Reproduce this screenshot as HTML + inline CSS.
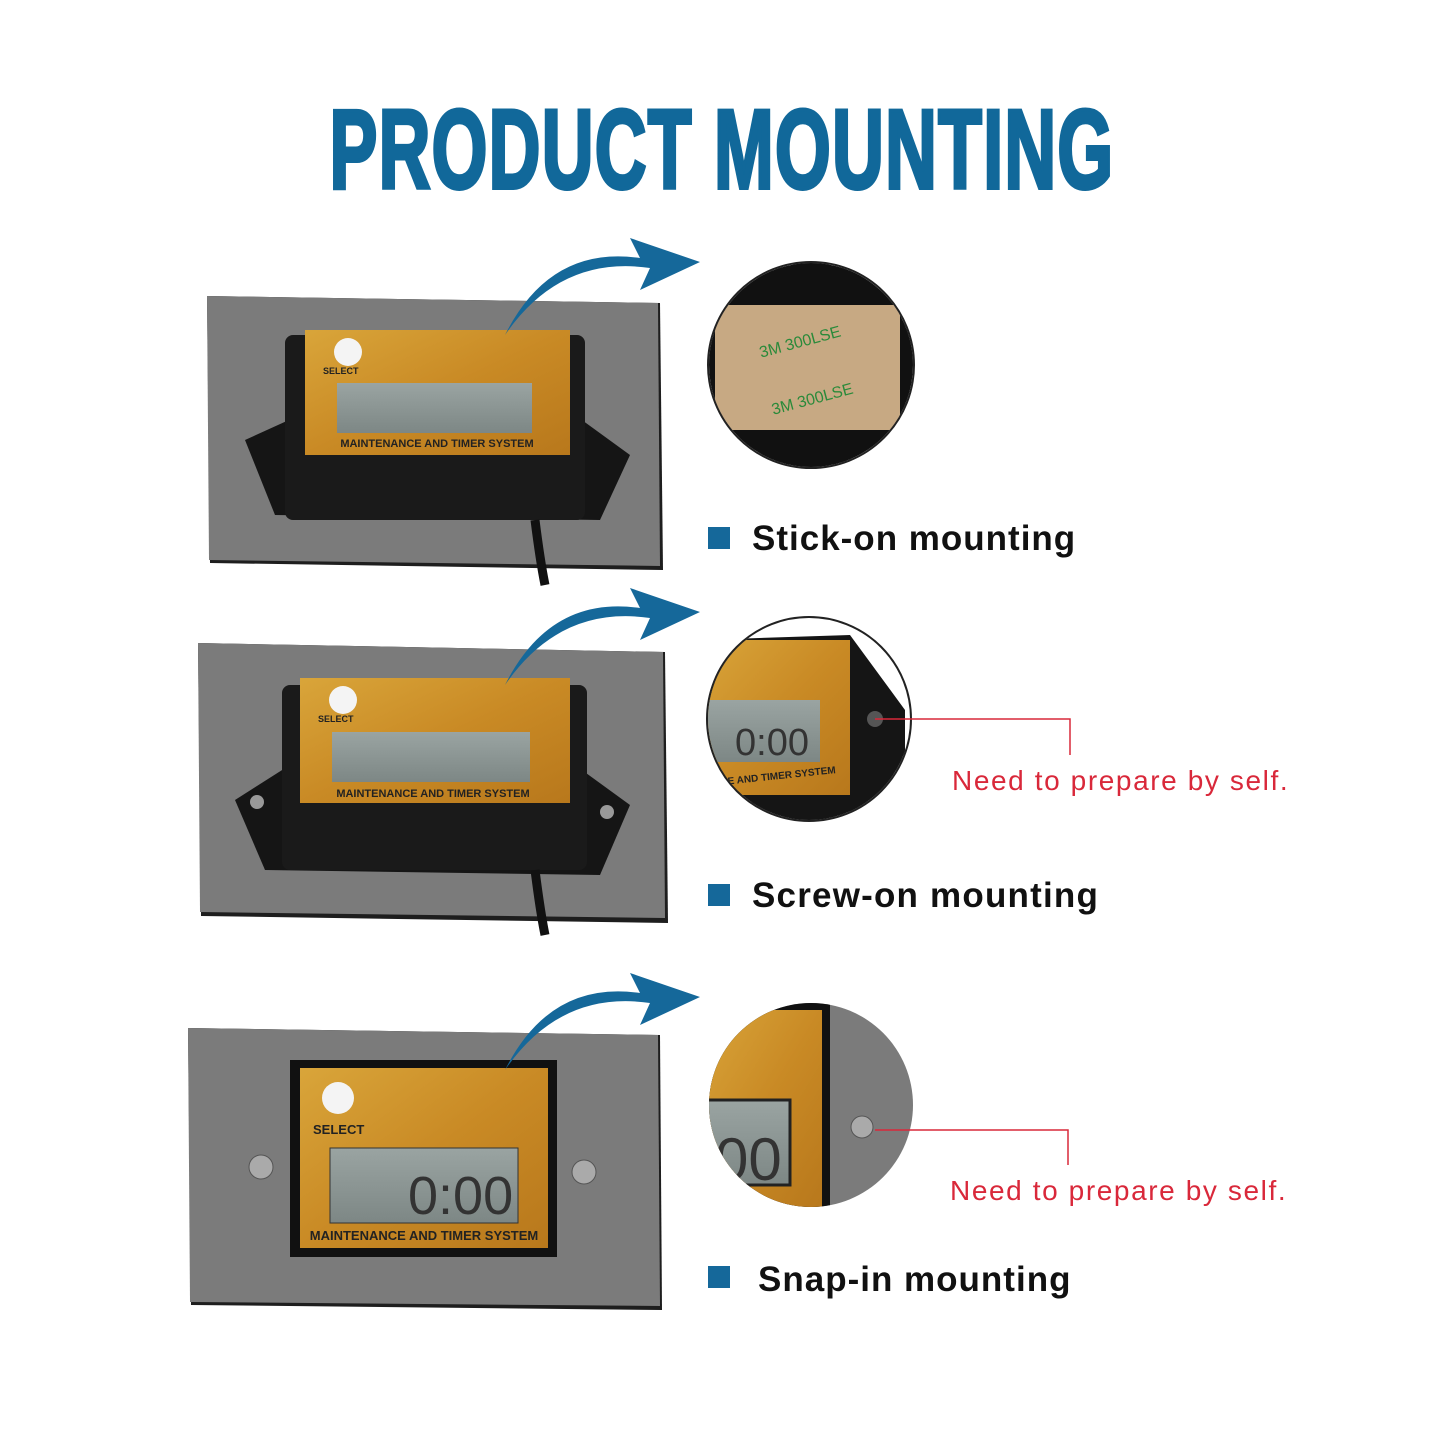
<!DOCTYPE html>
<html><head><meta charset="utf-8"><style>
html,body{margin:0;padding:0;background:#fff}
svg{display:block}
text{font-family:"Liberation Sans",sans-serif}
</style></head><body>
<svg width="1445" height="1445" viewBox="0 0 1445 1445" xmlns="http://www.w3.org/2000/svg">
<defs>
<linearGradient id="og" x1="0" y1="0" x2="1" y2="1"><stop offset="0" stop-color="#d9a53a"/><stop offset=".5" stop-color="#c98a25"/><stop offset="1" stop-color="#b8781c"/></linearGradient>
<linearGradient id="lcd" x1="0" y1="0" x2="0" y2="1"><stop offset="0" stop-color="#9aa4a2"/><stop offset="1" stop-color="#7d8785"/></linearGradient>
<clipPath id="c1"><circle cx="811" cy="365" r="102"/></clipPath>
<clipPath id="c2"><circle cx="809" cy="719" r="101"/></clipPath>
<clipPath id="c3"><circle cx="811" cy="1105" r="102"/></clipPath>
</defs>
<rect width="1445" height="1445" fill="#fff"/>
<!-- Title -->
<text x="722" y="188" text-anchor="middle" font-size="112" font-weight="bold" fill="#11689a" stroke="#11689a" stroke-width="4" transform="translate(722 0) scale(0.64 1) translate(-722 0)" letter-spacing="2">PRODUCT  MOUNTING</text>

<!-- Panel 1 -->
<polygon points="207,296 660,303 663,570 210,563" fill="#1e1e1e"/>
<polygon points="207,296 658,303 660,566 209,560" fill="#7b7b7b"/>
<polygon points="245,440 300,415 575,415 630,455 600,520 275,515" fill="#151515"/>
<rect x="285" y="335" width="300" height="185" rx="8" fill="#1a1a1a"/>
<rect x="305" y="330" width="265" height="125" fill="url(#og)"/>
<circle cx="348" cy="352" r="14" fill="#f4f4f4"/>
<text x="323" y="374" font-size="9" font-weight="bold" fill="#222">SELECT</text>
<rect x="337" y="383" width="195" height="50" fill="url(#lcd)"/>
<text x="437" y="447" font-size="11" font-weight="bold" fill="#222" text-anchor="middle">MAINTENANCE AND TIMER SYSTEM</text>
<path d="M535 520 Q540 560 545 585" stroke="#111" stroke-width="9" fill="none"/>
<path d="M505 335 Q560 255 650 268 L640 290 L700 262 L630 238 L640 258 Q550 245 505 335Z" fill="#15689a"/>

<circle cx="811" cy="365" r="103" fill="#fff" stroke="#222" stroke-width="2"/>
<g clip-path="url(#c1)"><rect x="700" y="260" width="230" height="210" fill="#111"/><rect x="715" y="305" width="185" height="125" fill="#c7a983"/>
<text x="770" y="410" font-size="16" fill="#2a8a3a" transform="rotate(-15 790 400)">3M 300LSE</text>
<text x="760" y="350" font-size="16" fill="#2a8a3a" transform="rotate(-15 790 350)">3M 300LSE</text></g>
<rect x="708" y="527" width="22" height="22" fill="#15689a"/>
<text x="752" y="550" font-size="35" font-weight="bold" fill="#111" letter-spacing="1">Stick-on mounting</text>

<!-- Panel 2 -->
<polygon points="198,643 665,652 668,923 201,916" fill="#1e1e1e"/>
<polygon points="198,643 663,652 665,918 200,912" fill="#7b7b7b"/>
<polygon points="235,800 290,765 575,765 630,805 600,875 265,870" fill="#151515"/>
<circle cx="257" cy="802" r="7" fill="#999"/><circle cx="607" cy="812" r="7" fill="#999"/>
<rect x="282" y="685" width="305" height="185" rx="8" fill="#1a1a1a"/>
<rect x="300" y="678" width="270" height="125" fill="url(#og)"/>
<circle cx="343" cy="700" r="14" fill="#f4f4f4"/>
<text x="318" y="722" font-size="9" font-weight="bold" fill="#222">SELECT</text>
<rect x="332" y="732" width="198" height="50" fill="url(#lcd)"/>
<text x="433" y="797" font-size="11" font-weight="bold" fill="#222" text-anchor="middle">MAINTENANCE AND TIMER SYSTEM</text>
<path d="M535 870 Q540 910 545 935" stroke="#111" stroke-width="9" fill="none"/>
<path d="M505 685 Q560 605 650 618 L640 640 L700 612 L630 588 L640 608 Q550 595 505 685Z" fill="#15689a"/>

<circle cx="809" cy="719" r="102" fill="#fff" stroke="#222" stroke-width="2"/>
<g clip-path="url(#c2)"><polygon points="700,640 850,635 905,710 905,830 700,830" fill="#151515"/><rect x="700" y="640" width="150" height="155" fill="url(#og)"/>
<rect x="705" y="700" width="115" height="62" fill="url(#lcd)"/><text x="735" y="755" font-size="38" fill="#333">0:00</text>
<text x="720" y="780" font-size="10" font-weight="bold" fill="#222" transform="rotate(-6 770 775)">CE AND TIMER SYSTEM</text>
<circle cx="875" cy="719" r="8" fill="#555"/></g>
<polyline points="875,719 1070,719 1070,755" fill="none" stroke="#d9283a" stroke-width="1.5"/>
<text x="952" y="790" font-size="28" fill="#d9283a" letter-spacing="1.6">Need to prepare by self.</text>
<rect x="708" y="884" width="22" height="22" fill="#15689a"/>
<text x="752" y="907" font-size="35" font-weight="bold" fill="#111" letter-spacing="1.2">Screw-on mounting</text>

<!-- Panel 3 -->
<polygon points="188,1028 660,1035 662,1310 191,1305" fill="#1e1e1e"/>
<polygon points="188,1028 658,1035 660,1306 190,1302" fill="#7b7b7b"/>
<circle cx="261" cy="1167" r="12" fill="#aaa" stroke="#555"/><circle cx="584" cy="1172" r="12" fill="#aaa" stroke="#555"/>
<rect x="290" y="1060" width="267" height="197" fill="#111"/>
<rect x="300" y="1068" width="248" height="180" fill="url(#og)"/>
<circle cx="338" cy="1098" r="16" fill="#f4f4f4"/>
<text x="313" y="1134" font-size="13" font-weight="bold" fill="#222">SELECT</text>
<rect x="330" y="1148" width="188" height="75" fill="url(#lcd)" stroke="#333"/>
<text x="408" y="1214" font-size="54" fill="#333">0:00</text>
<text x="424" y="1240" font-size="13" font-weight="bold" fill="#222" text-anchor="middle">MAINTENANCE AND TIMER SYSTEM</text>
<path d="M505 1070 Q560 990 650 1003 L640 1025 L700 997 L630 973 L640 993 Q550 980 505 1070Z" fill="#15689a"/>

<circle cx="811" cy="1105" r="102" fill="#7b7b7b"/>
<g clip-path="url(#c3)"><rect x="700" y="1000" width="130" height="210" fill="#111"/><rect x="700" y="1010" width="122" height="200" fill="url(#og)"/>
<rect x="705" y="1100" width="85" height="85" fill="url(#lcd)" stroke="#222" stroke-width="3"/><text x="715" y="1180" font-size="60" fill="#333">00</text>
<circle cx="862" cy="1127" r="11" fill="#aaa" stroke="#555"/></g>
<polyline points="875,1130 1068,1130 1068,1165" fill="none" stroke="#d9283a" stroke-width="1.5"/>
<text x="950" y="1200" font-size="28" fill="#d9283a" letter-spacing="1.6">Need to prepare by self.</text>
<rect x="708" y="1266" width="22" height="22" fill="#15689a"/>
<text x="758" y="1291" font-size="35" font-weight="bold" fill="#111" letter-spacing="1">Snap-in mounting</text>
</svg>
</body></html>
